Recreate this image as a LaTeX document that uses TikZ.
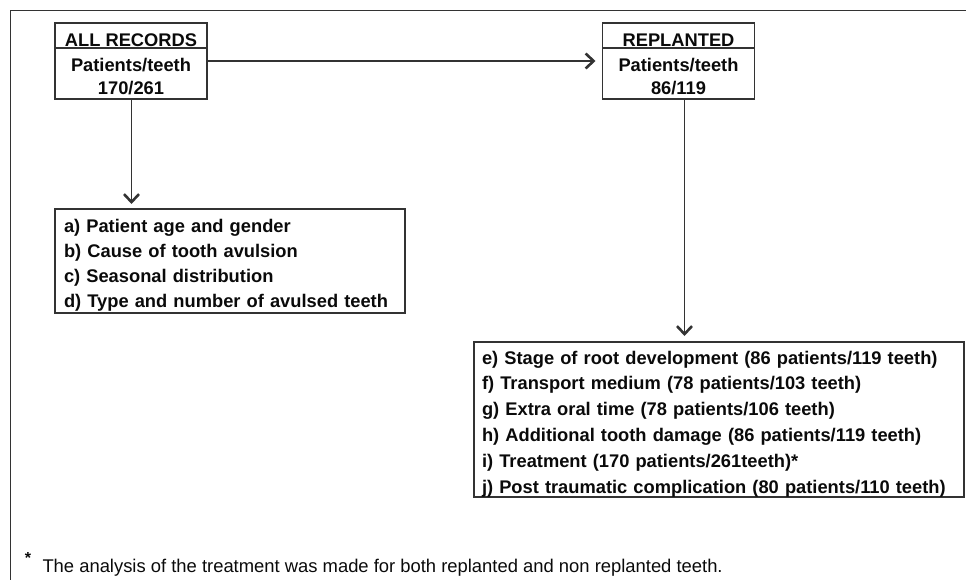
\documentclass[tikz,border=0pt]{standalone}
\usepackage{fontspec}
\setmainfont{Liberation Sans}
\usetikzlibrary{arrows.meta}
\definecolor{linec}{HTML}{333333}
\definecolor{txtc}{HTML}{0A0A0A}
\begin{document}
\begin{tikzpicture}[x=1pt,y=-1pt,
  every node/.style={inner sep=0pt, outer sep=0pt, text=txtc},
  frame/.style={draw=linec, line width=1.7pt},
  hdr/.style={frame, minimum width=152pt, minimum height=25pt},
  bdy/.style={frame, minimum width=152pt, minimum height=51pt},
  boldtxt/.style={font=\bfseries\fontsize{18.3}{23}\selectfont, align=center},
  listbox/.style={frame, align=left, anchor=north west},
  arr/.style={draw=linec, line width=1.5pt, -{Straight Barb[length=8pt,width=15pt,line width=2.6pt]}},
]
\useasboundingbox (0,0) rectangle (966,580);
% outer frame (cropped)
\draw[linec, line width=1.6pt] (10.5,580) -- (10.5,10.5) -- (966,10.5);

% ALL RECORDS
\node[hdr] (allh) at (131,35.5) {};
\node[bdy] (allb) at (131,73.5) {};
\node[boldtxt] (allt) at (131,40) {ALL RECORDS};
\node[boldtxt] (allc) at (131,76.5) {Patients/teeth\\170/261};

% REPLANTED
\node[hdr] (reph) at (678.5,35.5) {};
\node[bdy] (repb) at (678.5,73.5) {};
\node[boldtxt] (rept) at (678.5,40) {REPLANTED};
\node[boldtxt] (repc) at (678.5,76.5) {Patients/teeth\\86/119};

% list A
\node[listbox, minimum width=350pt, minimum height=104pt, text width=332pt, inner xsep=9pt,
      font=\bfseries\fontsize{18.3}{25}\selectfont] (lista) at (55,209)
  {\rule{0pt}{22pt}a) Patient age and gender\\
   b) Cause of tooth avulsion\\
   c) Seasonal distribution\\
   d) Type and number of avulsed teeth};

% list B
\node[listbox, minimum width=490pt, minimum height=155pt, text width=474pt, inner xsep=8pt,
      font=\bfseries\fontsize{18.3}{25.8}\selectfont] (listb) at (474,342)
  {\rule{0pt}{22pt}e) Stage of root development (86 patients/119 teeth)\\
   f) Transport medium (78 patients/103 teeth)\\
   g) Extra oral time (78 patients/106 teeth)\\
   h) Additional tooth damage (86 patients/119 teeth)\\
   i) Treatment (170 patients/261teeth)*\\
   j) Post traumatic complication (80 patients/110 teeth)};

% connectors
\draw[arr, shorten >=7pt] ([yshift=12.5pt]allb.east) -- ([yshift=12.5pt]repb.west);
\draw[arr, shorten >=5pt] ([xshift=0.5pt]allb.south) -- ([xshift=0.5pt]allb.south |- lista.north);
\draw[arr, shorten >=6pt] ([xshift=6pt]repb.south) -- ([xshift=6pt]repb.south |- listb.north);

% footnote
\node[font=\bfseries\fontsize{16}{16}\selectfont] (star) at (28,558) {*};
\node[anchor=west, font=\fontsize{18.4}{20}\selectfont] (note) at (42.5,568)
  {The analysis of the treatment was made for both replanted and non replanted teeth.};
\end{tikzpicture}
\end{document}
